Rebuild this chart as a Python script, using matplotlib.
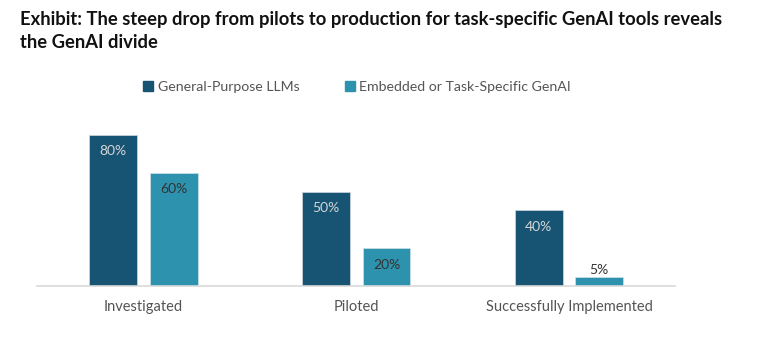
import matplotlib
matplotlib.use("Agg")
import matplotlib.pyplot as plt
import numpy as np
from matplotlib.patches import Patch

categories = ["Investigated", "Piloted", "Successfully Implemented"]
series_names = ["General-Purpose LLMs", "Embedded or Task-Specific GenAI"]
general = [80, 50, 40]
embedded = [60, 20, 5]

c_dark = "#175373"
c_teal = "#2d92ae"

plt.rcParams['font.family'] = ['Lato', 'DejaVu Sans']

fig = plt.figure(figsize=(7.72, 3.56), dpi=100)
ax = fig.add_axes([37/772, 70/356, (675.5-37)/772, 170/356])

x = np.arange(len(categories))
w = 0.225
off = 0.142
b1 = ax.bar(x - off, general, w, color=c_dark, edgecolor="#cfd8de", linewidth=0.5)
b2 = ax.bar(x + off, embedded, w, color=c_teal, edgecolor="#cfe3ea", linewidth=0.5)

for rect, v in zip(b1, general):
    ax.text(rect.get_x() + rect.get_width()/2, v - 5.5, f"{v}%", ha="center", va="top",
            color="#d6d6d6", fontsize=10)
for rect, v in zip(b2, embedded):
    if v >= 10:
        ax.text(rect.get_x() + rect.get_width()/2, v - 5.5, f"{v}%", ha="center", va="top",
                color="#333333", fontsize=10)
    else:
        ax.text(rect.get_x() + rect.get_width()/2, v + 0.2, f"{v}%", ha="center", va="bottom",
                color="#333333", fontsize=10)

ax.set_xlim(-0.5, 2.5)
ax.set_ylim(0, 90)
ax.set_xticks(x)
ax.set_xticklabels(categories, fontsize=10.5, color="#555555")
ax.tick_params(axis="x", length=0, pad=10)
ax.set_yticks([])
for s in ["top", "right", "left"]:
    ax.spines[s].set_visible(False)
ax.spines["bottom"].set_color("#d9d9d9")
ax.spines["bottom"].set_linewidth(1.2)

handles = [Patch(color=c_dark), Patch(color=c_teal)]
fig.legend(handles, series_names, loc="center", bbox_to_anchor=(357/772, 1 - 87/356),
           ncol=2, frameon=False, fontsize=10.2, handlelength=0.7, handleheight=0.7,
           handletextpad=0.3, columnspacing=3.2, labelcolor="#555555")

fig.text(20/772, 1 - 20/356, "Exhibit: The steep drop from pilots to production for task-specific GenAI tools reveals",
         fontsize=13.2, fontweight="bold", color="#111111", va="center", ha="left")
fig.text(20/772, 1 - 42/356, "the GenAI divide",
         fontsize=13.2, fontweight="bold", color="#111111", va="center", ha="left")

fig.savefig("out.png", dpi=100)
